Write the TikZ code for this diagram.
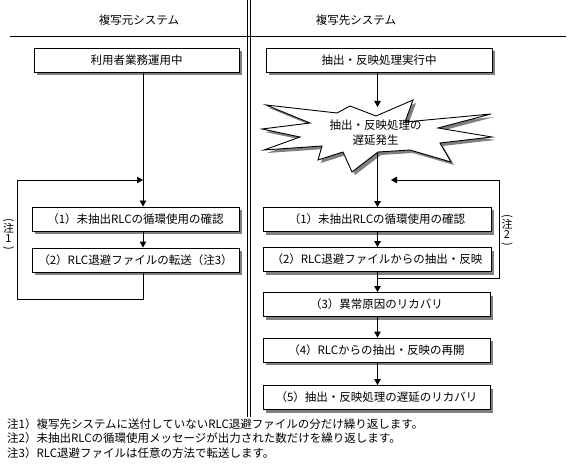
\documentclass[tikz,border=0pt]{standalone}
\usepackage{fontspec}
\newfontfamily\jp{Noto Sans CJK JP}
\usetikzlibrary{arrows.meta,shadows}
\definecolor{shadowgray}{HTML}{808080}
\tikzset{
  x=1pt,y=-1pt,
  every node/.style={font=\jp\fontsize{11.5}{13}\selectfont, inner sep=0pt},
  procbox/.style={draw=black, line width=0.9pt, fill=white, minimum height=24pt,
    drop shadow={shadow xshift=3pt, shadow yshift=-3pt, fill=shadowgray, opacity=1}},
  conn/.style={line width=0.9pt, black},
  arr/.style={conn, -{Triangle[width=6.5pt,length=6pt]}},
  divider/.style={line width=0.9pt, black},
  notelabel/.style={align=center, font=\jp\fontsize{11}{9.5}\selectfont},
}
\newcommand{\vparopen}{\rotatebox[origin=c]{-90}{(}}
\newcommand{\vparclose}{\rotatebox[origin=c]{-90}{)}}
\begin{document}
\begin{tikzpicture}
\useasboundingbox (0,0) rectangle (568,468);
\fill[white] (0,0) rectangle (568,468);

% headers and dividers
\node (h1) at (139,20) {複写元システム};
\node (h2) at (356,20) {複写先システム};
\coordinate (hlA) at (10,36);
\coordinate (hlB) at (566,36);
\draw[divider] (hlA) -- (hlB);
\coordinate (v1a) at (247,0);
\coordinate (v1b) at (247,417);
\coordinate (v2a) at (250.5,0);
\coordinate (v2b) at (250.5,417);
\draw[divider] (v1a) -- (v1b);
\draw[divider] (v2a) -- (v2b);

% column axes
\coordinate (lx) at (143,0);
\coordinate (rx) at (377.5,0);

% left column
\node[procbox, minimum width=205pt] (L0) at (136.5,60) {利用者業務運用中};
\node[procbox, minimum width=207pt] (L1) at (135.5,219) {（1）未抽出RLCの循環使用の確認};
\node[procbox, minimum width=207pt] (L2) at (135.5,260) {（2）RLC退避ファイルの転送（注3）};

% right column
\node[procbox, minimum width=226pt] (R0) at (379,60) {抽出・反映処理実行中};
\node[procbox, minimum width=228pt] (R1) at (377,219.5) {（1）未抽出RLCの循環使用の確認};
\node[procbox, minimum width=228pt] (R2) at (377,259.5) {（2）RLC退避ファイルからの抽出・反映};
\node[procbox, minimum width=227pt] (R3) at (376.5,304.5) {（3）異常原因のリカバリ};
\node[procbox, minimum width=227pt] (R4) at (376.5,350) {（4）RLCからの抽出・反映の再開};
\node[procbox, minimum width=227pt] (R5) at (376.5,397.5) {（5）抽出・反映処理の遅延のリカバリ};

% starburst
\def\starpath{(350,106) -- (376,116) -- (413,100) -- (405,122) -- (491,114) -- (438,128) -- (492,137) -- (440,143) -- (451,162) -- (410,150) -- (378,152) -- (352,172) -- (343,152) -- (318,160) -- (322,146) -- (264,150) -- (300,137) -- (262,129) -- (310,123) -- (266,105) -- (337,113) -- cycle}
\fill[shadowgray, shift={(3,3)}] \starpath;
\draw[line width=0.9pt, fill=white] \starpath;
\node[align=center, font=\jp\fontsize{11.5}{15}\selectfont] (starText) at (375.5,133) {抽出・反映処理の\\遅延発生};
\coordinate (starTop) at (377.5,107);
\coordinate (starBot) at (377.5,152);

% left connectors
\draw[conn] (L0.south -| lx) -- (lx |- 0,180);
\draw[arr] (lx |- 0,180) -- (L1.north -| lx);
\draw[arr] (L1.south -| lx) -- (L2.north -| lx);
\coordinate (lloopB) at (17,299);
\coordinate (lloopT) at (17,180);
\draw[arr] (L2.south -| lx) |- (lloopB) |- (lx |- lloopT);

% right connectors
\draw[arr] (R0.south -| rx) -- (starTop);
\draw[arr] (starBot) -- (R1.north -| rx);
\draw[arr] (R1.south -| rx) -- (R2.north -| rx);
\draw[arr] (R2.south -| rx) -- (R3.north -| rx);
\draw[arr] (R3.south -| rx) -- (R4.north -| rx);
\draw[arr] (R4.south -| rx) -- (R5.north -| rx);
\coordinate (rloopB) at (499,278);
\coordinate (rloopEnd) at (391,180);
\draw[arr] (rx |- rloopB) -- (rloopB) |- (rloopEnd);

% loop labels
\node[notelabel] (n1) at (8.5,235) {\vparopen\\注\\1\\\vparclose};
\node[notelabel] (n2) at (507,231) {\vparopen\\注\\2\\\vparclose};

% notes
\node[anchor=west] (note1) at (7,424) {注1）複写先システムに送付していないRLC退避ファイルの分だけ繰り返します。};
\node[anchor=west] (note2) at (7,438.5) {注2）未抽出RLCの循環使用メッセージが出力された数だけを繰り返します。};
\node[anchor=west] (note3) at (7,453) {注3）RLC退避ファイルは任意の方法で転送します。};
\end{tikzpicture}
\end{document}
